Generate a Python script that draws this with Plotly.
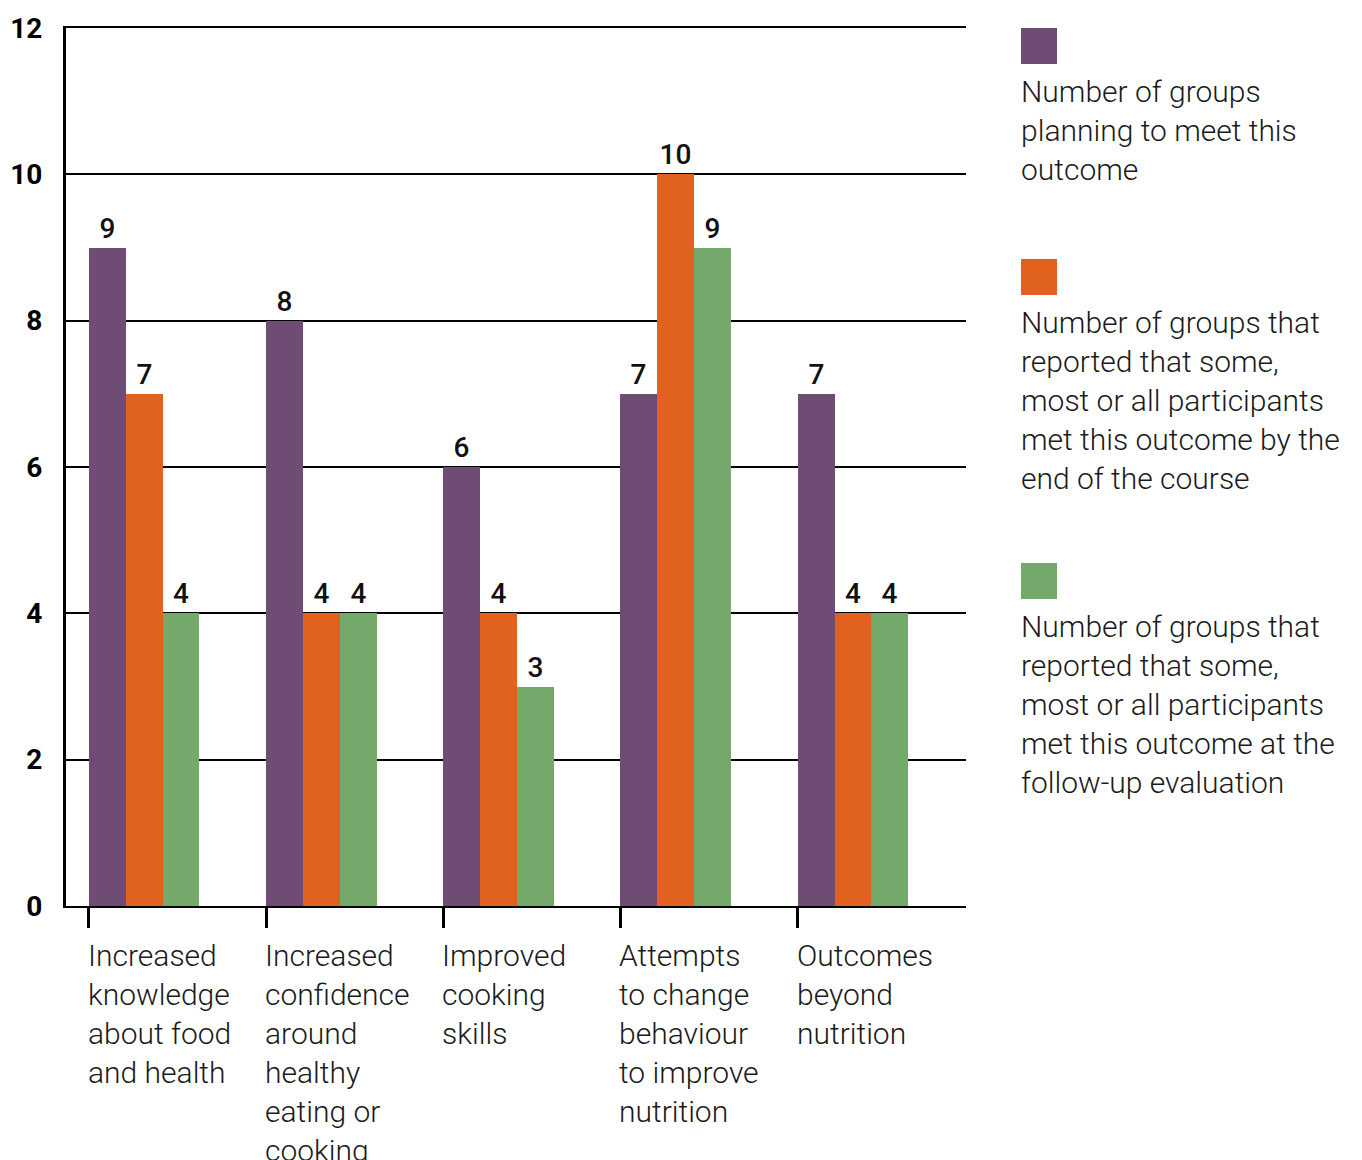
import plotly.graph_objects as go

categories = [
    "Increased<br>knowledge<br>about food<br>and health",
    "Increased<br>confidence<br>around<br>healthy<br>eating or<br>cooking",
    "Improved<br>cooking<br>skills",
    "Attempts<br>to change<br>behaviour<br>to improve<br>nutrition",
    "Outcomes<br>beyond<br>nutrition",
]
series_names = [
    "Number of groups<br>planning to meet this<br>outcome",
    "Number of groups that<br>reported that some,<br>most or all participants<br>met this outcome by the<br>end of the course",
    "Number of groups that<br>reported that some,<br>most or all participants<br>met this outcome at the<br>follow-up evaluation",
]
planning = [9, 8, 6, 7, 7]
end_of_course = [7, 4, 4, 10, 4]
follow_up = [4, 4, 3, 9, 4]
y_ticks = [0, 2, 4, 6, 8, 10, 12]

colors = ["#6e4c73", "#e0621e", "#74a96b"]
FONT = "Roboto"
TXT = "#1a1a1a"

W, H = 1362, 1160
ML, MR, MT, MB = 66, 396, 28, 254
PW = W - ML - MR
PH = H - MT - MB

xpos = list(range(len(categories)))
bw = 0.208
xr = [-0.1287, 4.950]

fig = go.Figure()
for k, (vals, name, col) in enumerate(zip([planning, end_of_course, follow_up], series_names, colors)):
    fig.add_trace(go.Bar(
        x=xpos, y=vals, name=name, marker=dict(color=col, line=dict(width=0)),
        width=bw, offset=k * bw,
        text=[str(v) for v in vals], textposition="outside",
        textfont=dict(family=FONT, size=28, color="#111", weight=500),
        cliponaxis=False, showlegend=False,
    ))

annotations = []
for i, c in enumerate(categories):
    annotations.append(dict(
        x=i, xref="x", y=(906 - 936) / PH, yref="paper", yanchor="top", xanchor="left",
        xshift=-3, text=c, showarrow=False, align="left",
        font=dict(family=FONT, size=30, color=TXT, weight=300),
    ))

shapes = []
leg_sq_tops = [28, 259, 563]
for k, (name, col) in enumerate(zip(series_names, colors)):
    top = leg_sq_tops[k]
    x0 = (1021 - ML) / PW
    x1 = (1057 - ML) / PW
    y1 = (906 - top) / PH
    y0 = (906 - top - 36) / PH
    shapes.append(dict(type="rect", xref="paper", yref="paper", x0=x0, x1=x1, y0=y0, y1=y1,
                       fillcolor=col, line=dict(width=0)))
    annotations.append(dict(
        x=(1019 - ML) / PW, xref="paper", y=(906 - top - 44) / PH, yref="paper",
        yanchor="top", xanchor="left", text=name, showarrow=False, align="left",
        font=dict(family=FONT, size=30, color=TXT, weight=300),
    ))

fig.update_layout(
    width=W, height=H,
    margin=dict(l=ML, r=MR, t=MT, b=MB),
    paper_bgcolor="white", plot_bgcolor="white",
    barmode="overlay", bargap=0,
    shapes=shapes, annotations=annotations,
    xaxis=dict(range=xr, tickvals=xpos, ticktext=[""] * len(xpos), showticklabels=False,
               ticks="outside", ticklen=20, tickwidth=3, tickcolor="black",
               showline=True, linewidth=2, linecolor="black", mirror=True,
               showgrid=False, zeroline=False, automargin=False, fixedrange=True),
    yaxis=dict(range=[0, 12], tickvals=y_ticks, ticktext=[str(t) for t in y_ticks],
               showgrid=True, gridcolor="black", gridwidth=2,
               showline=True, linewidth=3, linecolor="black", zeroline=False,
               ticks="", ticklabelstandoff=15, automargin=False,
               tickfont=dict(family=FONT, size=28, color="black", weight=700)),
)

fig.write_html("out.html")
